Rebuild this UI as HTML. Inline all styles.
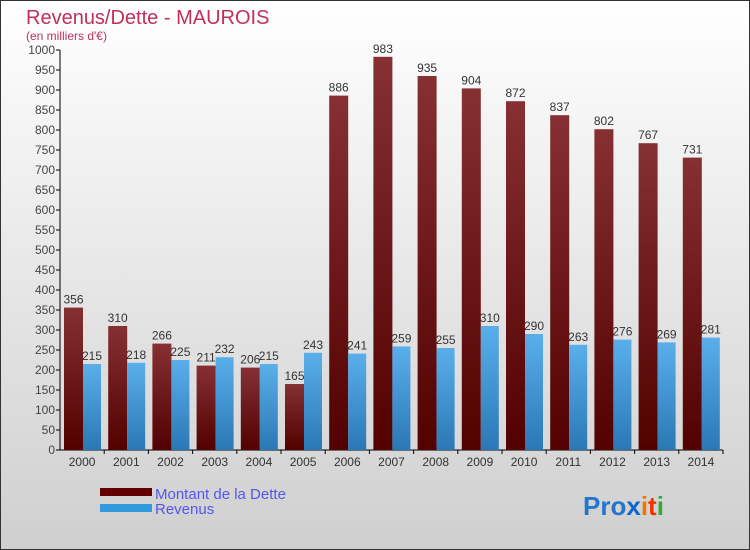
<!DOCTYPE html>
<html><head><meta charset="utf-8"><style>
body{margin:0;}
#c{width:750px;height:550px;position:relative;overflow:hidden;font-family:"Liberation Sans",sans-serif;}
</style></head><body>
<div id="c">
<svg width="750" height="550" xmlns="http://www.w3.org/2000/svg" id="svg">
<defs>
<linearGradient id="bg" x1="0" y1="0" x2="0" y2="1"><stop offset="0" stop-color="#ffffff"/><stop offset="1" stop-color="#cfcfcf"/></linearGradient>
<linearGradient id="gd" x1="0" y1="0" x2="0" y2="1"><stop offset="0" stop-color="#863034"/><stop offset="1" stop-color="#520000"/></linearGradient>
<linearGradient id="gr" x1="0" y1="0" x2="0" y2="1"><stop offset="0" stop-color="#5aafea"/><stop offset="1" stop-color="#2a78b5"/></linearGradient>
</defs>
<rect x="0.5" y="0.5" width="749" height="549" fill="url(#bg)" stroke="#333"/>
<text x="26" y="24" font-size="20" fill="#c0305a">Revenus/Dette - MAUROIS</text>
<text x="26" y="40" font-size="12" fill="#c0305a">(en milliers d'€)</text>
<g id="axes"></g><g id="bars"></g>
<rect x="100" y="488" width="52" height="8" fill="#620000"/>
<rect x="100" y="504" width="52" height="8" fill="#3399dd"/>
<text x="155" y="499" font-size="15" fill="#5555ee">Montant de la Dette</text>
<text x="155" y="514" font-size="15" fill="#5555ee">Revenus</text>
<text x="583" y="515" font-size="26" font-weight="bold" fill="#2277cc">Pro<tspan fill="#1166cc">x</tspan><tspan fill="#ee7700">i</tspan><tspan fill="#ee3300">t</tspan><tspan fill="#33aa33">i</tspan></text>
</svg>
</div>
<script>
const years=["2000","2001","2002","2003","2004","2005","2006","2007","2008","2009","2010","2011","2012","2013","2014"];
const dette=[356,310,266,211,206,165,886,983,935,904,872,837,802,767,731];
const revenus=[215,218,225,232,215,243,241,259,255,310,290,263,276,269,281];
const yTicks=[0,50,100,150,200,250,300,350,400,450,500,550,600,650,700,750,800,850,900,950,1000];
const NS="http://www.w3.org/2000/svg";
const x0=60,gw=44.2,y0=450,ys=0.4;
const y=v=>y0-v*ys;
function mk(t,a,p){const e=document.createElementNS(NS,t);for(const k in a)e.setAttribute(k,a[k]);p.appendChild(e);return e;}
const ax=document.getElementById('axes'),bg=document.getElementById('bars');
let l=mk('line',{x1:x0,y1:50,x2:x0,y2:y0,stroke:'#000'},ax);


l=mk('line',{x1:x0,y1:y0,x2:x0+gw*15,y2:y0,stroke:'#000'},ax);


yTicks.forEach(v=>{
 mk('line',{x1:x0-4,y1:y(v),x2:x0,y2:y(v),stroke:'#000'},ax);
 const t=mk('text',{x:x0-5,y:y(v)+4,'font-size':12,fill:'#444','text-anchor':'end'},ax);t.textContent=v;
 
 
});
years.forEach((yr,i)=>{
 const gx=x0+i*gw;
 mk('line',{x1:gx+gw,y1:y0,x2:gx+gw,y2:y0+4,stroke:'#000'},ax);
 const t=mk('text',{x:gx+gw/2,y:y0+16,'font-size':12,fill:'#333','text-anchor':'middle'},ax);t.textContent=yr;
 
 
 const b1=mk('rect',{x:gx+4,y:y(dette[i]),width:19,height:dette[i]*ys,fill:'url(#gd)'},bg);
 
 
 const b2=mk('rect',{x:gx+23,y:y(revenus[i]),width:18,height:revenus[i]*ys,fill:'url(#gr)'},bg);
 
 
 const t1=mk('text',{x:gx+13.5,y:y(dette[i])-4,'font-size':12,fill:'#333','text-anchor':'middle'},bg);t1.textContent=dette[i];
 
 
 const t2=mk('text',{x:gx+32,y:y(revenus[i])-4,'font-size':12,fill:'#333','text-anchor':'middle'},bg);t2.textContent=revenus[i];
 
 
});
</script>
</body></html>
